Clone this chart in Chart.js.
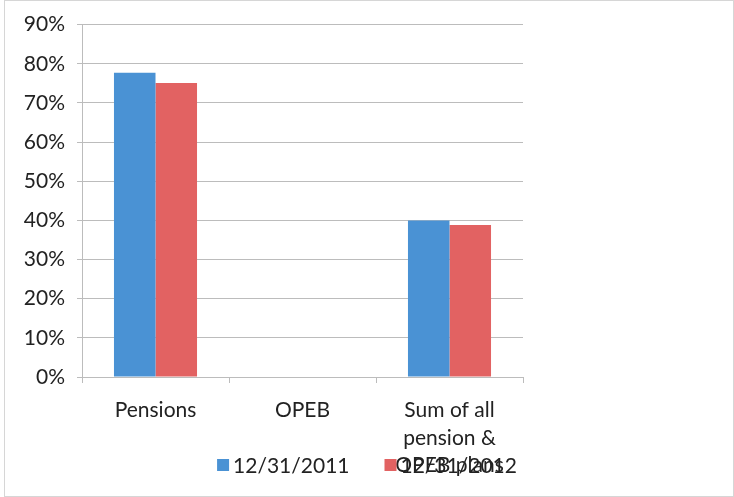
<!DOCTYPE html>
<html>
<head>
<meta charset="utf-8">
<script src="https://cdn.jsdelivr.net/npm/chart.js@4"></script>
<style>
  html, body { margin: 0; padding: 0; background: #fff; }
  #wrap { width: 734px; height: 497px; position: relative; }
</style>
</head>
<body>
<div id="wrap"><canvas id="fundedChart" width="734" height="497"></canvas></div>
<script>
// Datos del gráfico
const categories = ['Pensions', 'OPEB', ['Sum of all', 'pension &', 'OPEB plans']];
const seriesLabels = ['12/31/2011', '12/31/2012'];
const values2011 = [77.7, 0, 40];
const values2012 = [75.1, 0, 38.8];
const yTicks = [0, 10, 20, 30, 40, 50, 60, 70, 80, 90];

const fontFamily = 'Lato, "Open Sans", sans-serif';
const gridColor = '#bcbcbc';
const textColor = '#222';

// Marco gris claro alrededor del gráfico
const framePlugin = {
    id: 'frame',
    beforeDraw(chart) {
        const c = chart.ctx;
        c.save();
        c.fillStyle = '#fff';
        c.fillRect(0, 0, chart.width, chart.height);
        c.strokeStyle = '#d6d6d6';
        c.lineWidth = 1;
        c.strokeRect(4.5, 0.5, chart.width - 5, chart.height - 1);
        c.restore();
    }
};

// Leyenda dibujada a mano, encima de las etiquetas del eje (como en el original)
const bottomLegendPlugin = {
    id: 'bottomLegend',
    afterDraw(chart) {
        const c = chart.ctx;
        const box = 12, gap = 4, itemGap = 35, y = 465;
        c.save();
        c.font = '21px ' + fontFamily;
        c.textBaseline = 'middle';
        const items = chart.data.datasets.map(ds => ({
            text: ds.label,
            color: ds.backgroundColor,
            w: box + gap + c.measureText(ds.label).width
        }));
        const total = items.reduce((s, it) => s + it.w, 0) + itemGap * (items.length - 1);
        let x = chart.width / 2 - total / 2;
        items.forEach(it => {
            c.fillStyle = it.color;
            c.fillRect(x, y - box / 2, box, box);
            c.fillStyle = textColor;
            c.fillText(it.text, x + box + gap, y + 1);
            x += it.w + itemGap;
        });
        c.restore();
    }
};

const ctx = document.getElementById('fundedChart').getContext('2d');
new Chart(ctx, {
    type: 'bar',
    data: {
        labels: categories,
        datasets: [
            {
                label: seriesLabels[0],
                data: values2011,
                backgroundColor: '#4a92d4',
                borderWidth: 0
            },
            {
                label: seriesLabels[1],
                data: values2012,
                backgroundColor: '#e26262',
                borderWidth: 0
            }
        ]
    },
    options: {
        responsive: false,
        animation: false,
        layout: {
            padding: { top: 13, right: 211, left: 0, bottom: 0 }
        },
        datasets: {
            bar: { categoryPercentage: 0.565, barPercentage: 1 }
        },
        plugins: {
            legend: { display: false },
            tooltip: { enabled: false }
        },
        scales: {
            x: {
                grid: {
                    display: true,
                    drawOnChartArea: false,
                    drawTicks: true,
                    tickLength: 6,
                    color: gridColor
                },
                border: { color: gridColor },
                ticks: {
                    font: { family: fontFamily, size: 21, lineHeight: 1.3 },
                    color: textColor,
                    padding: 14,
                    maxRotation: 0,
                    autoSkip: false
                },
                afterFit(scale) { scale.height = 120; }
            },
            y: {
                min: 0,
                max: 90,
                afterBuildTicks(scale) {
                    scale.ticks = yTicks.map(v => ({ value: v }));
                },
                grid: {
                    color: gridColor,
                    tickLength: 5
                },
                border: { color: gridColor },
                ticks: {
                    font: { family: fontFamily, size: 21 },
                    color: textColor,
                    padding: 12,
                    callback: v => v + '%'
                },
                afterFit(scale) { scale.width = 82; }
            }
        }
    },
    plugins: [framePlugin, bottomLegendPlugin]
});
</script>
</body>
</html>
